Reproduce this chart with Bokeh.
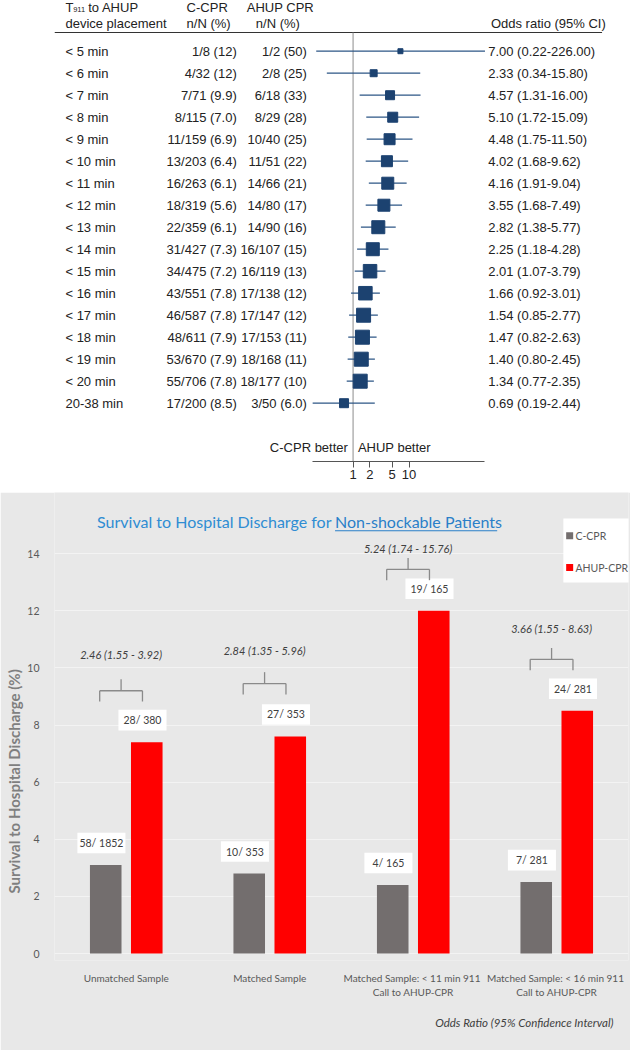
from bokeh.plotting import figure
from bokeh.layouts import column
from bokeh.models import (Range1d, LogScale, LogAxis, FixedTicker, FactorRange,
                          ColumnDataSource, Title, PrintfTickFormatter)
from bokeh.transform import dodge
from bokeh.core.properties import value
from bokeh.embed import file_html
from bokeh.resources import INLINE

# ---------------- forest plot data ----------------
intervals = ["< 5 min", "< 6 min", "< 7 min", "< 8 min", "< 9 min", "< 10 min",
             "< 11 min", "< 12 min", "< 13 min", "< 14 min", "< 15 min", "< 16 min",
             "< 17 min", "< 18 min", "< 19 min", "< 20 min", "20-38 min"]
ccpr_cells = ["1/8 (12)", "4/32 (12)", "7/71 (9.9)", "8/115 (7.0)", "11/159 (6.9)",
              "13/203 (6.4)", "16/263 (6.1)", "18/319 (5.6)", "22/359 (6.1)",
              "31/427 (7.3)", "34/475 (7.2)", "43/551 (7.8)", "46/587 (7.8)",
              "48/611 (7.9)", "53/670 (7.9)", "55/706 (7.8)", "17/200 (8.5)"]
ahup_cells = ["1/2 (50)", "2/8 (25)", "6/18 (33)", "8/29 (28)", "10/40 (25)",
              "11/51 (22)", "14/66 (21)", "14/80 (17)", "14/90 (16)", "16/107 (15)",
              "16/119 (13)", "17/138 (12)", "17/147 (12)", "17/153 (11)",
              "18/168 (11)", "18/177 (10)", "3/50 (6.0)"]
odds = [7.00, 2.33, 4.57, 5.10, 4.48, 4.02, 4.16, 3.55, 2.82, 2.25, 2.01, 1.66,
        1.54, 1.47, 1.40, 1.34, 0.69]
ci_low = [0.22, 0.34, 1.31, 1.72, 1.75, 1.68, 1.91, 1.68, 1.38, 1.18, 1.07, 0.92,
          0.85, 0.82, 0.80, 0.77, 0.19]
ci_high = [226.00, 15.80, 16.00, 15.09, 11.50, 9.62, 9.04, 7.49, 5.77, 4.28, 3.79,
           3.01, 2.77, 2.63, 2.45, 2.35, 2.44]
weights = [5, 7, 9, 10, 11, 11, 12, 12, 13, 13, 13.5, 13.5, 14, 14, 14, 14, 9]
or_ticks = [1, 2, 5, 10]

# ---------------- bar chart data ----------------
samples = ["Unmatched Sample", "Matched Sample",
           "Matched Sample:  < 11 min 911\nCall to AHUP-CPR",
           "Matched Sample:  < 16 min 911\nCall to AHUP-CPR"]
ccpr_pct = [3.1, 2.8, 2.4, 2.5]
ahup_pct = [7.4, 7.6, 12.0, 8.5]
ccpr_counts = ["58/ 1852", "10/ 353", "4/ 165", "7/ 281"]
ahup_counts = ["28/ 380", "27/ 353", "19/ 165", "24/ 281"]
or_labels = ["2.46 (1.55 - 3.92)", "2.84 (1.35 - 5.96)",
             "5.24 (1.74 - 15.76)", "3.66 (1.55 - 8.63)"]
pct_ticks = [0, 2, 4, 6, 8, 10, 12, 14]

FONT = value("Liberation Sans")
SOFT = value("Lato")
NAVY = "#1c4270"
NAVY_LINE = "#2d5686"

# ======================= forest plot =======================
rows = list(range(len(intervals)))
px_per_decade = 61.5
one_px = 327.7
lo = 10 ** (-one_px / px_per_decade)
hi = 10 ** ((630 - one_px) / px_per_decade)

p1 = figure(width=630, height=492, x_range=Range1d(0, 630),
            y_range=Range1d(18.65, -2.305), output_backend="svg",
            toolbar_location=None, x_axis_location=None, y_axis_location=None,
            min_border_left=0, min_border_right=0, min_border_top=0,
            min_border_bottom=31)
p1.extra_x_ranges = {"or": Range1d(lo, hi)}
p1.extra_x_scales = {"or": LogScale()}
p1.grid.visible = False
p1.outline_line_color = None

or_axis = LogAxis(x_range_name="or", ticker=FixedTicker(ticks=or_ticks),
                  formatter=PrintfTickFormatter(format="%d"),
                  bounds=(min(ci_low), max(ci_high)))
or_axis.axis_line_color = "#555555"
or_axis.major_tick_line_color = "#555555"
or_axis.major_tick_out = 6
or_axis.major_tick_in = 0
or_axis.minor_tick_line_color = None
or_axis.major_label_text_font = "Liberation Sans"
or_axis.major_label_text_font_size = "13px"
or_axis.major_label_text_color = "#222222"
or_axis.major_label_standoff = 2
p1.add_layout(or_axis, "below")

# header
hdr = dict(text_font=FONT, text_font_size="13px", text_color="#222222",
           text_baseline="middle")
p1.text(x=[12], y=[-1.99], text=["T"], text_align="left", **hdr)
p1.text(x=[20.5], y=[-1.90], text=["911"], text_align="left", text_font=FONT,
        text_font_size="7.5px", text_color="#222222", text_baseline="middle")
p1.text(x=[37], y=[-1.99], text=["to AHUP"], text_align="left", **hdr)
p1.text(x=[12], y=[-1.26], text=["device placement"], text_align="left", **hdr)
p1.text(x=[145], y=[-1.99], text=["C-CPR"], text_align="left", **hdr)
p1.text(x=[145], y=[-1.26], text=["n/N (%)"], text_align="left", **hdr)
p1.text(x=[211], y=[-1.99], text=["AHUP CPR"], text_align="left", **hdr)
p1.text(x=[221], y=[-1.26], text=["n/N (%)"], text_align="left", **hdr)
p1.text(x=[479], y=[-1.26], text=["Odds ratio (95% CI)"], text_align="left", **hdr)
p1.segment(x0=[0], x1=[601], y0=[-0.85], y1=[-0.85], line_color="#333333",
           line_width=1)

# reference line at OR = 1
p1.segment(x0=[1], x1=[1], y0=[-0.85], y1=[18.65], x_range_name="or",
           line_color="#8c8c8c", line_width=1)

# table columns
or_cells = [f"{o:.2f} ({l:.2f}-{h:.2f})" for o, l, h in zip(odds, ci_low, ci_high)]
row_src = ColumnDataSource(dict(row=rows, label=intervals, ccpr=ccpr_cells,
                                ahup=ahup_cells, orv=odds, lo=ci_low, hi=ci_high,
                                w=weights, ortxt=or_cells))
p1.text(x=12, y="row", text="label", text_align="left", source=row_src, **hdr)
p1.text(x=200, y="row", text="ccpr", text_align="right", source=row_src, **hdr)
p1.text(x=277, y="row", text="ahup", text_align="right", source=row_src, **hdr)
p1.text(x=476, y="row", text="ortxt", text_align="left", source=row_src, **hdr)

# confidence intervals and point estimates
p1.segment(x0="lo", x1="hi", y0="row", y1="row", source=row_src,
           x_range_name="or", line_color=NAVY_LINE, line_width=1.3)
p1.scatter(x="orv", y="row", size="w", marker="square", source=row_src,
           x_range_name="or", fill_color=NAVY, line_color=NAVY)

p1.text(x=[322], y=[18.0], text=["C-CPR better"], text_align="right", **hdr)
p1.text(x=[333], y=[18.0], text=["AHUP better"], text_align="left", **hdr)

# ======================= bar chart =======================
BG = "#e8e8e8"
GRAY = "#736e6e"
RED = "#ff0000"
UNIT_PX = 28.57                      # pixels per percentage point
bracket_lift = [1.80, 1.85, 1.45, 1.80]
label_lift_px = [36, 33, 21, 31]

p2 = figure(width=630, height=558,
            x_range=FactorRange(factors=samples, range_padding=0),
            y_range=Range1d(-0.245, 16.14), output_backend="svg",
            toolbar_location=None, min_border_left=47, min_border_right=2,
            min_border_top=0, min_border_bottom=90)
p2.background_fill_color = BG
p2.border_fill_color = BG
p2.outline_line_color = None
p2.xgrid.visible = False
p2.ygrid.ticker = FixedTicker(ticks=pct_ticks)
p2.ygrid.grid_line_color = "#f3f3f3"
p2.ygrid.grid_line_width = 1

p2.yaxis.ticker = FixedTicker(ticks=pct_ticks)
p2.yaxis.axis_line_color = None
p2.yaxis.major_tick_line_color = None
p2.yaxis.minor_tick_line_color = None
p2.yaxis.major_label_text_font = "Lato"
p2.yaxis.major_label_text_font_size = "10.5px"
p2.yaxis.major_label_text_color = "#595959"
p2.yaxis.major_label_standoff = 9

# vertical axis title, set beside the tick labels
ytitle = Title(text="Survival to Hospital Discharge (%)", align="left",
               offset=67, standoff=4, text_font="Lato", text_font_size="15px",
               text_font_style="bold", text_color="#7f7f7f")
p2.add_layout(ytitle, "left")

p2.xaxis.axis_line_color = None
p2.xaxis.major_tick_line_color = None
p2.xaxis.minor_tick_line_color = None
p2.xaxis.major_label_text_font = "Lato"
p2.xaxis.major_label_text_font_size = "10px"
p2.xaxis.major_label_text_color = "#595959"
p2.xaxis.major_label_standoff = 5

brk = [v + b for v, b in zip(ahup_pct, bracket_lift)]
bar_src = ColumnDataSource(dict(
    cat=samples, c=ccpr_pct, a=ahup_pct, cn=ccpr_counts, an=ahup_counts,
    orl=or_labels,
    c_lab=[v + 0.77 for v in ccpr_pct],
    a_lab=[v + 0.77 for v in ahup_pct],
    brk=brk,
    brk_lo=[b - 0.38 for b in brk],
    brk_hi=[b + 0.40 for b in brk],
    or_y=[b + d / UNIT_PX for b, d in zip(brk, label_lift_px)],
))
xr = p2.x_range
off = 0.143
p2.vbar(x=dodge("cat", -off, range=xr), top="c", width=0.22, source=bar_src,
        fill_color=GRAY, line_color=None)
p2.vbar(x=dodge("cat", off, range=xr), top="a", width=0.22, source=bar_src,
        fill_color=RED, line_color=None)

# count labels in white boxes
p2.rect(x=dodge("cat", -off - 0.03, range=xr), y="c_lab", width=0.335,
        height=0.72, source=bar_src, fill_color="white", line_color=None)
p2.rect(x=dodge("cat", off - 0.03, range=xr), y="a_lab", width=0.335,
        height=0.72, source=bar_src, fill_color="white", line_color=None)
lab = dict(text_font=SOFT, text_font_size="10.5px", text_color="#404040",
           text_align="center", text_baseline="middle")
p2.text(x=dodge("cat", -off - 0.03, range=xr), y="c_lab", text="cn",
        source=bar_src, **lab)
p2.text(x=dodge("cat", off - 0.03, range=xr), y="a_lab", text="an",
        source=bar_src, **lab)

# odds-ratio brackets
bl, br, bm = -0.185, 0.113, -0.036
bkw = dict(line_color="#8a8a8a", line_width=1.3, source=bar_src)
p2.segment(x0=dodge("cat", bl, range=xr), x1=dodge("cat", br, range=xr),
           y0="brk", y1="brk", **bkw)
p2.segment(x0=dodge("cat", bl, range=xr), x1=dodge("cat", bl, range=xr),
           y0="brk", y1="brk_lo", **bkw)
p2.segment(x0=dodge("cat", br, range=xr), x1=dodge("cat", br, range=xr),
           y0="brk", y1="brk_lo", **bkw)
p2.segment(x0=dodge("cat", bm, range=xr), x1=dodge("cat", bm, range=xr),
           y0="brk", y1="brk_hi", **bkw)
p2.text(x=dodge("cat", bm, range=xr), y="or_y", text="orl", source=bar_src,
        text_font=SOFT, text_font_size="11px", text_font_style="italic",
        text_color="#404040", text_align="center", text_baseline="middle")

# title: first part ends where the underlined part starts
ttl = dict(text_font=SOFT, text_font_size="16px", text_baseline="middle")
split_x = 1.955
p2.text(x=[split_x - 0.025], y=[15.12], text=["Survival to Hospital Discharge for"],
        text_color="#2f8dd3", text_align="right", **ttl)
p2.text(x=[split_x], y=[15.12], text=["Non-shockable Patients"],
        text_color="#2a7fc8", text_align="left", **ttl)
p2.segment(x0=[split_x], x1=[3.085], y0=[14.80], y1=[14.80],
           line_color="#2a7fc8", line_width=1.2)

# legend box
p2.quad(left=[3.546], right=[4.2], bottom=[12.99], top=[15.23],
        fill_color="white", line_color=None)
p2.scatter(x=[3.59, 3.59], y=[14.63, 13.51], marker="square", size=7,
           fill_color=[GRAY, RED], line_color=None)
p2.text(x=[3.63, 3.63], y=[14.63, 13.51], text=["C-CPR", "AHUP-CPR"],
        text_font=SOFT, text_font_size="10.5px", text_color="#595959",
        text_align="left", text_baseline="middle")

foot = Title(text="Odds Ratio (95% Confidence Interval)", align="right",
             text_font="Lato", text_font_size="11.5px",
             text_font_style="italic", text_color="#404040", standoff=26,
             offset=15)
p2.add_layout(foot, "below")

layout = column(p1, p2, spacing=0)
open("out.html", "w").write(file_html(layout, INLINE))
